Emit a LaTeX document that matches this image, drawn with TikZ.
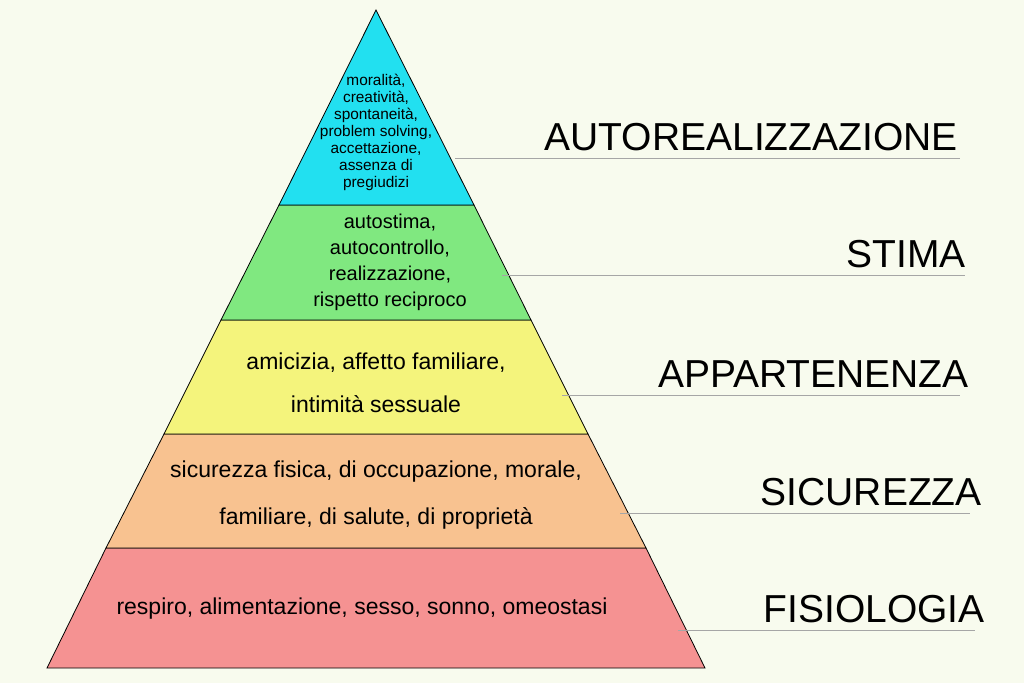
\documentclass[tikz,border=0pt]{standalone}
\usepackage{fontspec}
\setmainfont{Liberation Sans}
\begin{document}
\begin{tikzpicture}[x=1pt,y=-1pt,
  layer/.style={draw=black,line width=0.8pt},
  inner/.style={align=center,font=\fontsize{23}{27}\selectfont},
  lvl/.style={anchor=south east,font=\fontsize{39}{39}\selectfont,inner sep=0pt},
  guide/.style={draw=black!35,line width=0.6pt}]
\fill[color={rgb,255:red,248;green,251;blue,238}] (0,0) rectangle (1024,683);
\useasboundingbox (0,0) rectangle (1024,683);
\coordinate (A) at (376,10);
\fill[layer,fill={rgb,255:red,245;green,146;blue,146}] (106,548)--(646,548)--(705,668)--(47,668)--cycle;
\fill[layer,fill={rgb,255:red,248;green,194;blue,144}] (164,434)--(588,434)--(646,548)--(106,548)--cycle;
\fill[layer,fill={rgb,255:red,244;green,244;blue,124}] (221,320)--(531,320)--(588,434)--(164,434)--cycle;
\fill[layer,fill={rgb,255:red,128;green,232;blue,128}] (279,205)--(474,205)--(531,320)--(221,320)--cycle;
\fill[layer,fill={rgb,255:red,34;green,224;blue,240}] (A)--(474,205)--(279,205)--cycle;
\node[align=center,font=\fontsize{15.4}{17}\selectfont] (t1) at (376,132) {moralità,\\creatività,\\spontaneità,\\problem solving,\\accettazione,\\assenza di\\pregiudizi};
\node[align=center,font=\fontsize{20}{26}\selectfont] (t2) at (390,262) {autostima,\\autocontrollo,\\realizzazione,\\rispetto reciproco};
\node[inner,font=\fontsize{23}{43}\selectfont] (t3) at (376,383) {amicizia, affetto familiare,\\intimità sessuale};
\node[inner,font=\fontsize{23}{47}\selectfont] (t4) at (376,495) {sicurezza fisica, di occupazione, morale,\\familiare, di salute, di proprietà};
\node[inner] (t5) at (362,609) {respiro, alimentazione, sesso, sonno, omeostasi};
\coordinate (r1) at (455,158); \coordinate (e1) at (960,158);
\coordinate (r2) at (502,275); \coordinate (e2) at (965,275);
\coordinate (r3) at (562,395); \coordinate (e3) at (960,395);
\coordinate (r4) at (620,513); \coordinate (e4) at (970,513);
\coordinate (r5) at (678,630); \coordinate (e5) at (975,630);
\foreach \i in {1,...,5} \draw[guide] (r\i)--(e\i);
\node[lvl] (l1) at (958,151) {AUTOREALIZZAZIONE};
\node[lvl] (l2) at (966,268) {STIMA};
\node[lvl] (l3) at (969,388) {APPARTENENZA};
\node[lvl] (l4) at (982,506) {SICUREZZA};
\node[lvl] (l5) at (985,623) {FISIOLOGIA};
\end{tikzpicture}
\end{document}
